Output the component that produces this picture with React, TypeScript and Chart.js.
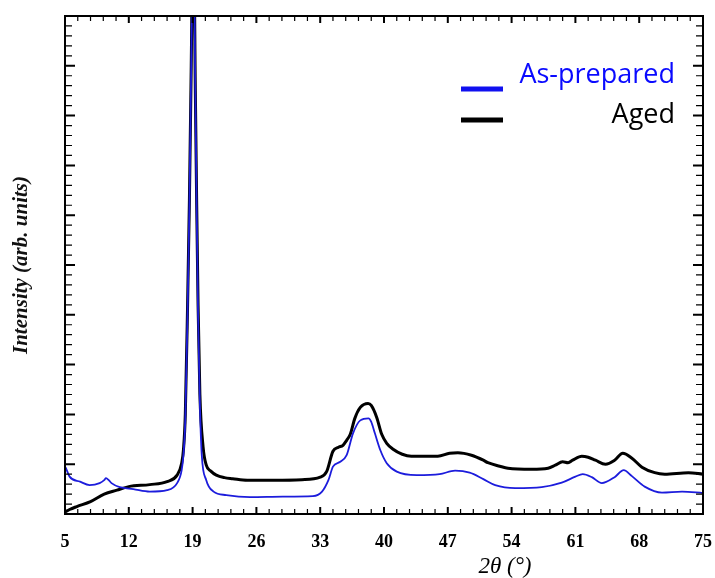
import React, { useEffect, useRef } from "react";
import { Chart, registerables } from "chart.js";

Chart.register(...registerables);

// ---- Data ----
const agedTheta = [5.0, 5.5, 6.3, 7.8, 9.3, 10.7, 12.0, 14.3, 16.2, 17.3, 17.8, 18.0, 18.2, 18.45, 18.65, 18.85, 19.0, 19.15, 19.3, 19.45, 19.6, 19.8, 20.15, 20.5, 21.0, 21.6, 22.5, 23.4, 25.0, 28.0, 31.0, 33.0, 33.7, 34.4, 35.0, 35.5, 35.9, 36.3, 36.8, 37.4, 38.25, 38.6, 39.2, 39.75, 40.3, 41.0, 42.0, 43.0, 45.9, 47.2, 48.1, 49.6, 50.9, 51.4, 52.7, 53.6, 56.2, 58.0, 58.8, 59.6, 60.2, 60.7, 61.7, 62.4, 63.2, 64.3, 65.3, 66.2, 67.2, 68.3, 69.7, 70.8, 73.4, 75.0];
const agedIntensity = [0.04, 0.09, 0.15, 0.25, 0.4, 0.48, 0.55, 0.59, 0.65, 0.78, 1.02, 1.3, 2.0, 4.2, 6.3, 9.0, 11.0, 11.0, 8.5, 6.2, 4.2, 2.4, 1.35, 0.98, 0.86, 0.78, 0.73, 0.71, 0.68, 0.68, 0.69, 0.74, 0.85, 1.26, 1.34, 1.38, 1.48, 1.6, 1.92, 2.14, 2.22, 2.18, 1.94, 1.6, 1.42, 1.3, 1.2, 1.16, 1.16, 1.22, 1.23, 1.18, 1.08, 1.03, 0.96, 0.92, 0.9, 0.92, 0.98, 1.05, 1.03, 1.08, 1.16, 1.14, 1.08, 1.0, 1.08, 1.22, 1.12, 0.94, 0.83, 0.8, 0.83, 0.8];

const preparedTheta = [5.0, 5.1, 5.5, 6.65, 7.7, 8.8, 9.3, 9.5, 9.8, 10.1, 11.0, 12.5, 14.3, 16.2, 17.3, 17.8, 18.0, 18.2, 18.45, 18.65, 18.85, 19.0, 19.15, 19.3, 19.45, 19.6, 19.8, 20.0, 20.5, 21.3, 22.7, 25.3, 28.9, 32.2, 33.2, 33.9, 34.4, 35.2, 35.9, 36.6, 37.4, 38.3, 38.6, 39.0, 39.6, 40.3, 41.4, 43.6, 46.1, 47.8, 49.4, 50.9, 52.2, 54.4, 57.3, 59.5, 61.0, 61.8, 62.8, 63.9, 65.3, 66.3, 67.2, 68.6, 70.5, 72.7, 75.0];
const preparedIntensity = [0.95, 0.92, 0.75, 0.65, 0.58, 0.62, 0.68, 0.72, 0.68, 0.62, 0.54, 0.5, 0.45, 0.48, 0.62, 0.88, 1.2, 1.9, 4.1, 6.2, 9.0, 11.0, 11.0, 8.5, 6.1, 4.0, 2.2, 1.2, 0.68, 0.45, 0.38, 0.34, 0.35, 0.36, 0.45, 0.68, 0.95, 1.05, 1.18, 1.62, 1.88, 1.92, 1.85, 1.62, 1.28, 1.02, 0.85, 0.78, 0.8, 0.87, 0.83, 0.7, 0.58, 0.52, 0.54, 0.63, 0.75, 0.8, 0.74, 0.62, 0.74, 0.88, 0.76, 0.55, 0.43, 0.45, 0.42];

const xTickValues = [5, 12, 19, 26, 33, 40, 47, 54, 61, 68, 75];
const yTickValues = [0, 1, 2, 3, 4, 5, 6, 7, 8, 9, 10];
const seriesLabels = ["As-prepared", "Aged"];
const xTitle = "2\u03b8 (\u00b0)";
const yTitle = "Intensity (arb. units)";

const BLUE_LINE = "#1c1cdc";
const BLUE_TEXT = "#0a0aff";

const toPoints = (xs: number[], ys: number[]) => xs.map((x, i) => ({ x, y: ys[i] }));

const framePlugin = {
  id: "frameTicksLegend",
  afterDatasetsDraw(chart: any) {
    const { ctx, chartArea } = chart;
    const xs = chart.scales.x;
    const ys = chart.scales.y;
    const { left, right, top, bottom } = chartArea;
    ctx.save();
    ctx.strokeStyle = "#000";
    // x ticks (major + minor every 1/5 of major step)
    for (let i = 0; i < xTickValues.length; i++) {
      const v = xTickValues[i];
      const px = xs.getPixelForValue(v);
      ctx.lineWidth = 2;
      ctx.beginPath();
      ctx.moveTo(px, bottom); ctx.lineTo(px, bottom - 7);
      ctx.moveTo(px, top); ctx.lineTo(px, top + 7);
      ctx.stroke();
      if (i < xTickValues.length - 1) {
        const step = (xTickValues[i + 1] - v) / 5;
        ctx.lineWidth = 1.2;
        ctx.beginPath();
        for (let k = 1; k < 5; k++) {
          const mp = xs.getPixelForValue(v + k * step);
          ctx.moveTo(mp, bottom); ctx.lineTo(mp, bottom - 5);
          ctx.moveTo(mp, top); ctx.lineTo(mp, top + 5);
        }
        ctx.stroke();
      }
    }
    // y ticks
    for (let i = 0; i < yTickValues.length; i++) {
      const v = yTickValues[i];
      const py = ys.getPixelForValue(v);
      ctx.lineWidth = 2;
      ctx.beginPath();
      ctx.moveTo(left, py); ctx.lineTo(left + 10, py);
      ctx.moveTo(right, py); ctx.lineTo(right - 10, py);
      ctx.stroke();
      if (i < yTickValues.length - 1) {
        const step = (yTickValues[i + 1] - v) / 5;
        ctx.lineWidth = 1.2;
        ctx.beginPath();
        for (let k = 1; k < 5; k++) {
          const mp = ys.getPixelForValue(v + k * step);
          ctx.moveTo(left, mp); ctx.lineTo(left + 7, mp);
          ctx.moveTo(right, mp); ctx.lineTo(right - 7, mp);
        }
        ctx.stroke();
      }
    }
    // frame
    ctx.lineWidth = 2;
    ctx.strokeRect(left, top, right - left, bottom - top);

    // legend
    ctx.fillStyle = "#1010f0";
    ctx.fillRect(461, 86.5, 42, 5);
    ctx.fillStyle = "#000";
    ctx.fillRect(461, 117.5, 42, 5);
    ctx.font = '27px "Open Sans"';
    ctx.textAlign = "right";
    ctx.textBaseline = "alphabetic";
    ctx.fillStyle = BLUE_TEXT;
    ctx.fillText(seriesLabels[0], 675, 83);
    ctx.fillStyle = "#000";
    ctx.fillText(seriesLabels[1], 675, 123);

    // x title
    ctx.font = 'italic 23px "Liberation Serif"';
    ctx.textAlign = "center";
    ctx.fillStyle = "#000";
    ctx.fillText(xTitle, 505, 573);
    ctx.restore();
  },
};

export default function App() {
  const ref = useRef<HTMLCanvasElement>(null);
  useEffect(() => {
    if (!ref.current) return;
    const chart = new Chart(ref.current, {
      type: "line",
      data: {
        datasets: [
          {
            label: seriesLabels[0],
            data: toPoints(preparedTheta, preparedIntensity),
            borderColor: BLUE_LINE,
            borderWidth: 1.8,
            pointRadius: 0,
            cubicInterpolationMode: "monotone",
          },
          {
            label: seriesLabels[1],
            data: toPoints(agedTheta, agedIntensity),
            borderColor: "#000",
            borderWidth: 3,
            pointRadius: 0,
            cubicInterpolationMode: "monotone",
          },
        ],
      },
      options: {
        animation: false,
        responsive: false,
        layout: { padding: { top: 16, right: 12, left: 0, bottom: 0 } },
        plugins: { legend: { display: false }, tooltip: { enabled: false } },
        scales: {
          x: {
            type: "linear",
            min: 5,
            max: 75,
            afterBuildTicks: (s: any) => {
              s.ticks = xTickValues.map((v) => ({ value: v }));
            },
            afterFit: (s: any) => {
              s.height = 64;
              s.paddingLeft = 0;
              s.paddingRight = 0;
            },
            grid: { display: false, drawTicks: false },
            border: { display: false },
            ticks: {
              padding: 18,
              color: "#000",
              maxRotation: 0,
              autoSkip: false,
              font: { family: '"Liberation Serif"', weight: "bold", size: 18 },
            },
          },
          y: {
            type: "linear",
            min: 0,
            max: 10,
            afterFit: (s: any) => {
              s.width = 65;
              s.paddingTop = 0;
              s.paddingBottom = 0;
            },
            grid: { display: false, drawTicks: false },
            border: { display: false },
            ticks: { display: false },
            title: {
              display: true,
              text: yTitle,
              color: "#111",
              padding: { top: 9, bottom: 0 },
              font: { family: '"Liberation Serif"', weight: "bold", style: "italic", size: 21 },
            },
          },
        },
      },
      plugins: [framePlugin],
    });
    return () => chart.destroy();
  }, []);
  return (
    <div style={{ position: "absolute", left: 0, top: 0, width: 715, height: 578, background: "#fff" }}>
      <canvas ref={ref} width={715} height={578} style={{ display: "block" }} />
    </div>
  );
}
